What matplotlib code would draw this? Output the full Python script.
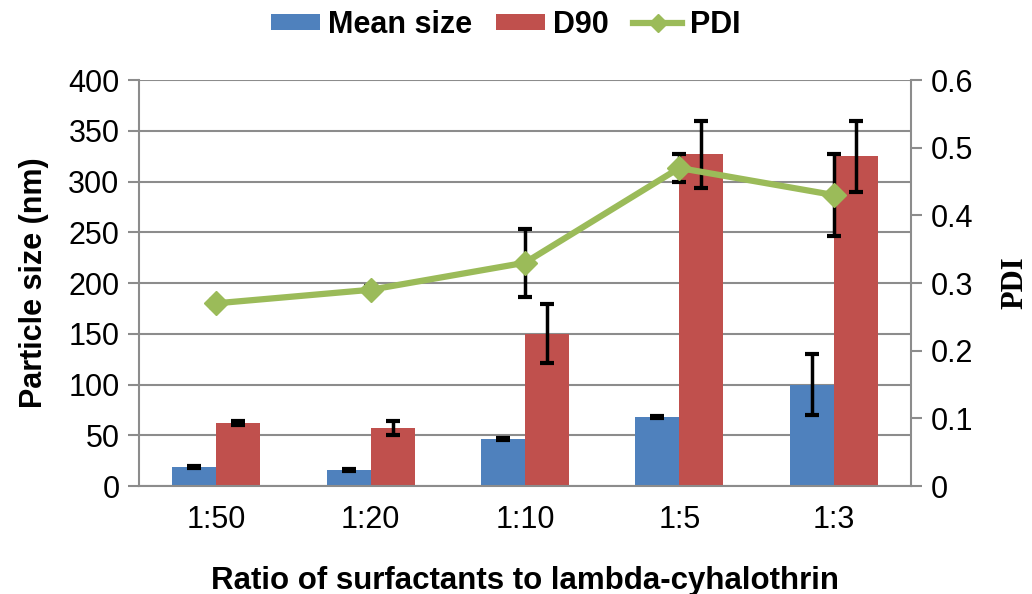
import matplotlib
matplotlib.use('Agg')
import matplotlib.pyplot as plt
import numpy as np

plt.rcParams['font.family'] = ['Liberation Sans', 'DejaVu Sans']

# data
ratios = ['1:50', '1:20', '1:10', '1:5', '1:3']
mean_size = [19, 16, 46, 68, 100]
mean_err = [1, 1, 1, 1, 30]
d90 = [62, 57, 150, 327, 325]
d90_err = [2, 7, 29, 33, 35]
pdi = [0.27, 0.29, 0.33, 0.47, 0.43]
pdi_err = [0.005, 0.005, 0.05, 0.02, 0.06]

blue = '#4F81BD'
red = '#C0504D'
green = '#9BBB59'
grid_c = '#8C8C8C'
fs = 22

fig = plt.figure(figsize=(10.32, 5.94), dpi=100)
ax = fig.add_axes([0.1347, 0.1818, 0.748, 0.6835])
ax2 = ax.twinx()

x = np.arange(len(ratios))
w = 0.285
b1 = ax.bar(x - w/2, mean_size, w, color=blue, label='Mean size', zorder=2)
b2 = ax.bar(x + w/2, d90, w, color=red, label='D90', zorder=2)
ax.errorbar(x - w/2, mean_size, yerr=mean_err, fmt='none', ecolor='black',
            elinewidth=2.5, capsize=5, capthick=3, zorder=3)
ax.errorbar(x + w/2, d90, yerr=d90_err, fmt='none', ecolor='black',
            elinewidth=2.5, capsize=5, capthick=3, zorder=3)

ax.set_ylim(0, 400)
ax.set_xlim(-0.5, len(ratios) - 0.5)
ax.set_yticks(np.arange(0, 401, 50))
ax.yaxis.grid(True, color=grid_c, linewidth=1.5, zorder=0)
ax.set_axisbelow(True)
ax.set_xticks(x)
ax.set_xticklabels(ratios)
ax.tick_params(axis='x', length=0, labelsize=fs, pad=14)
ax.tick_params(axis='y', labelsize=fs, length=8, width=1.5, color=grid_c, pad=6)
for s in ['top', 'right']:
    ax.spines[s].set_visible(False)
for s in ['left', 'bottom']:
    ax.spines[s].set_color(grid_c)
    ax.spines[s].set_linewidth(1.5)
ax.set_ylabel('Particle size (nm)', fontsize=fs, fontweight='bold', labelpad=14)
ax.set_xlabel('Ratio of surfactants to lambda-cyhalothrin', fontsize=22.5,
              fontweight='bold', labelpad=22)

ax2.errorbar(x, pdi, yerr=pdi_err, fmt='none', ecolor='black',
             elinewidth=2.5, capsize=5, capthick=3, zorder=3)
ln, = ax2.plot(x, pdi, color=green, linewidth=4.5, marker='D', markersize=12,
               label='PDI', zorder=4)
ax2.set_ylim(0, 0.6)
ax2.set_yticks([0, 0.1, 0.2, 0.3, 0.4, 0.5, 0.6])
ax2.set_yticklabels(['0', '0.1', '0.2', '0.3', '0.4', '0.5', '0.6'])
ax2.tick_params(axis='y', labelsize=fs, length=8, width=1.5, color=grid_c, pad=6)
for s in ['top', 'left', 'bottom']:
    ax2.spines[s].set_visible(False)
ax2.spines['right'].set_color(grid_c)
ax2.spines['right'].set_linewidth(1.5)
ax2.set_ylabel('PDI', fontsize=fs, fontweight='bold', family='Liberation Serif',
               labelpad=20)

fig.legend(handles=[b1, b2, ln], loc='upper center', bbox_to_anchor=(0.49, 1.03),
           ncol=3, frameon=False, prop={'size': fs, 'weight': 'bold'},
           handlelength=1.6, handleheight=0.45, columnspacing=0.8,
           handletextpad=0.25, markerscale=0.8)

fig.savefig('out.png', dpi=100)
